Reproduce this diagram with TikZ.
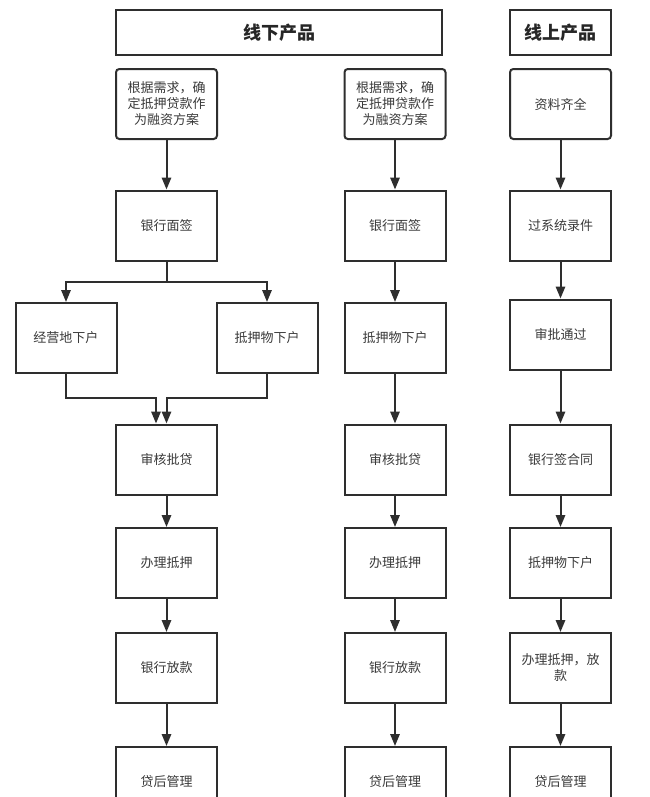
\documentclass[tikz,border=0pt]{standalone}
\usepackage{fontspec}
\setmainfont{Noto Sans CJK SC}
\usetikzlibrary{arrows.meta,calc}
\definecolor{linec}{HTML}{2E2E2E}
\definecolor{textc}{HTML}{3A3A3A}
\begin{document}
\begin{tikzpicture}[x=0.75pt,y=-0.75pt,
  box/.style={draw=linec, line width=1.5pt, minimum width=75.75pt, minimum height=52.5pt,
    inner sep=2pt, align=center, font=\fontsize{9.75}{12}\selectfont, text=textc},
  rbox/.style={box, rounded corners=2.5pt},
  head/.style={draw=linec, line width=1.5pt, minimum height=33.75pt, align=center,
    font=\fontsize{13.5}{16}\selectfont\bfseries, text=black!85},
  arr/.style={draw=linec, line width=1.5pt, -{Triangle[length=9pt,width=7pt]}},
  ln/.style={draw=linec, line width=1.5pt}
]
\fill[white] (0,0) rectangle (650,797);
\clip (0,0) rectangle (650,797);
% headers
\node[head, minimum width=244.5pt] (h1) at (279,32.5) {线下产品};
\node[head, minimum width=75.75pt] (h2) at (560.5,32.5) {线上产品};
% column 1
\node[rbox] (a1) at (166.5,104) {根据需求，确\\定抵押贷款作\\为融资方案};
\node[box] (a2) at (166.5,225.5) {银行面签};
\node[box] (aL) at (66,338) {经营地下户};
\node[box] (aR) at (267,338) {抵押物下户};
\node[box] (a4) at (166.5,459.5) {审核批贷};
\node[box] (a5) at (166.5,563) {办理抵押};
\node[box] (a6) at (166.5,668) {银行放款};
\node[box] (a7) at (166.5,782) {贷后管理};
% column 2
\node[rbox] (b1) at (395,104) {根据需求，确\\定抵押贷款作\\为融资方案};
\node[box] (b2) at (395,225.5) {银行面签};
\node[box] (b3) at (395,338) {抵押物下户};
\node[box] (b4) at (395,459.5) {审核批贷};
\node[box] (b5) at (395,563) {办理抵押};
\node[box] (b6) at (395,668) {银行放款};
\node[box] (b7) at (395,782) {贷后管理};
% column 3
\node[rbox] (c1) at (560.5,104) {资料齐全};
\node[box] (c2) at (560.5,225.5) {过系统录件};
\node[box] (c3) at (560.5,334.5) {审批通过};
\node[box] (c4) at (560.5,459.5) {银行签合同};
\node[box] (c5) at (560.5,563) {抵押物下户};
\node[box] (c6) at (560.5,668) {办理抵押，放\\款};
\node[box] (c7) at (560.5,782) {贷后管理};
% split / merge coordinates
\coordinate (sp) at (166.5,282);
\coordinate (m1) at (156,398);
\coordinate (m2) at (166.5,398);
% column 1 connectors
\draw[arr] (a1) -- (a2);
\draw[ln] (a2.south) -- (sp);
\draw[arr] (sp) -| (aL.north);
\draw[arr] (sp) -| (aR.north);
\draw[arr] (aL.south) |- (m1) -- (m1 |- a4.north);
\draw[arr] (aR.south) |- (m2) -- (a4.north);
\draw[arr] (a4) -- (a5);
\draw[arr] (a5) -- (a6);
\draw[arr] (a6) -- (a7);
% column 2 connectors
\draw[arr] (b1) -- (b2);
\draw[arr] (b2) -- (b3);
\draw[arr] (b3) -- (b4);
\draw[arr] (b4) -- (b5);
\draw[arr] (b5) -- (b6);
\draw[arr] (b6) -- (b7);
% column 3 connectors
\draw[arr] (c1) -- (c2);
\draw[arr] (c2) -- (c3);
\draw[arr] (c3) -- (c4);
\draw[arr] (c4) -- (c5);
\draw[arr] (c5) -- (c6);
\draw[arr] (c6) -- (c7);
\end{tikzpicture}
\end{document}
